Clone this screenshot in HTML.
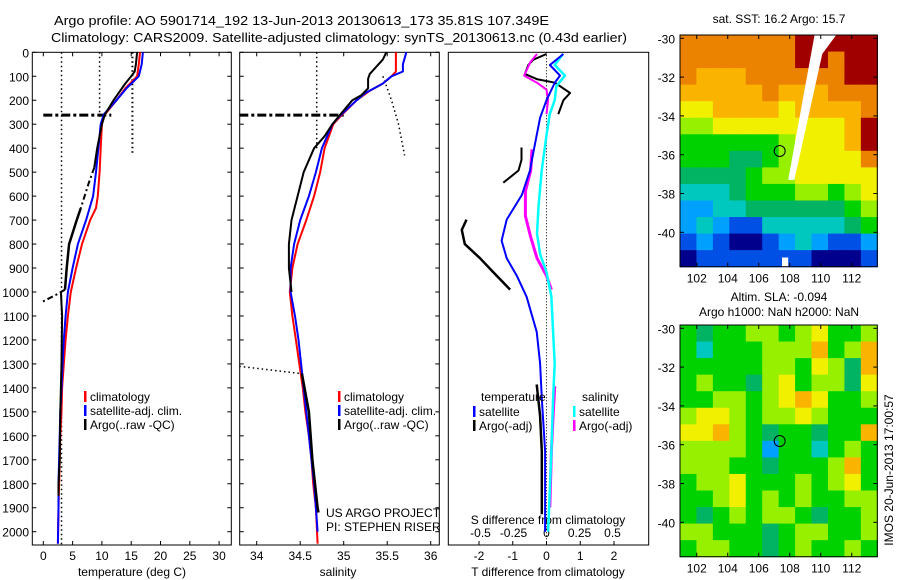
<!DOCTYPE html>
<html><head><meta charset="utf-8"><style>
body{margin:0;background:#fff;}
svg{display:block;font-family:"Liberation Sans",sans-serif;}
</style></head><body>
<svg id="chart" width="900" height="580" viewBox="0 0 900 580" xmlns="http://www.w3.org/2000/svg">
<text x="54" y="25" font-size="13" textLength="495" lengthAdjust="spacingAndGlyphs">Argo profile: AO 5901714_192 13-Jun-2013 20130613_173 35.81S 107.349E</text>
<text x="51" y="42" font-size="13" textLength="576" lengthAdjust="spacingAndGlyphs">Climatology: CARS2009. Satellite-adjusted climatology: synTS_20130613.nc (0.43d earlier)</text>
<g id="g"></g>
</svg>
<script>
// ---------- data ----------
const depthTicks=[0,100,200,300,400,500,600,700,800,900,1000,1100,1200,1300,1400,1500,1600,1700,1800,1900,2000];
const tempTicks=[0,5,10,15,20,25,30];
const salTicks=[34,34.5,35,35.5,36];
const tdiffTicks=[-2,-1,0,1,2];
const sdiffTicks=[-0.5,-0.25,0,0.25,0.5];
const sdiffLabels=["-0.5","-0.25","0","0.25","0.5"];

const climTempDepth=[0,50,100,150,200,260,300,400,500,600,650,700,800,900,1000,1100,1200,1300,1400,1500,1600,1700,1800,1900,2050];
const climTemp=[16.5,16.3,16,14,12.5,10.5,10,9.8,9.6,9.3,9,8,6.6,5.6,4.7,4.2,3.8,3.5,3.2,3.1,2.9,2.8,2.7,2.6,2.5];
const satTempDepth=[0,50,100,150,200,260,300,400,500,600,700,800,900,1000,1100,1200,1300,1400,1500,1600,1700,1800,1900,2050];
const satTemp=[17,16.8,16.3,14.2,12.5,10.3,9.8,9.4,9.0,8.5,7.3,5.9,5.0,4.2,3.8,3.5,3.3,3.1,2.9,2.8,2.7,2.6,2.6,2.5];
const argoTempDepth1=[0,50,80,100,130,200,260,300,400,480];
const argoTemp1=[16,15.8,15.6,15,14,12,10.5,10,9.2,8.7];
const argoTempDepth2=[650,700,800,900,990];
const argoTemp2=[6.4,5.7,4.4,4.0,3.7];
const argoTempDepth3=[1000,1100,1300,1500,1700,1800,1850];
const argoTemp3=[3.0,3.2,3.1,2.9,2.8,2.6,2.6];
const argoTempDashDepth=[480,550,620,650];
const argoTempDash=[8.7,7.7,6.8,6.4];
const argoTempHookDepth=[990,1000,1010,1045];
const argoTempHook=[3.7,3.0,2.3,-0.5];

const climSalDepth=[0,80,100,130,160,200,260,300,400,500,600,700,800,900,1000,1100,1200,1300,1400,1500,1600,1700,1800,1900,2050];
const climSal=[35.6,35.6,35.55,35.45,35.3,35.15,34.98,34.88,34.78,34.73,34.66,34.57,34.47,34.41,34.38,34.41,34.45,34.49,34.53,34.56,34.6,34.63,34.65,34.68,34.7];
const satSalDepth=[0,50,80,100,130,170,200,260,300,400,500,600,700,800,900,1000,1100,1200,1300,1400,1500,1600,1700,1800,1900,2000];
const satSal=[35.72,35.68,35.68,35.55,35.45,35.25,35.15,34.97,34.87,34.75,34.68,34.6,34.5,34.43,34.39,34.39,34.44,34.48,34.51,34.54,34.57,34.6,34.63,34.66,34.68,34.7];
const argoSalDepth1=[0,30,50,90,110,150,180,200,260,300,350,400,500,600,700,800,900,1000];
const argoSal1=[35.49,35.45,35.4,35.3,35.28,35.28,35.2,35.1,34.96,34.87,34.78,34.66,34.54,34.47,34.40,34.37,34.37,34.4];
const argoSalDepth2=[1340,1500,1700,1900,1920];
const argoSal2=[34.52,34.6,34.64,34.7,34.71];

const satTdiffDepth=[7,53,97,126,200,273,346,419,493,595,698,786,859,932,1020,1166,1298,1444,1663,2000];
const satTdiff=[0.5,0.1,0.4,0.25,0,-0.19,-0.29,-0.39,-0.49,-0.73,-1.18,-1.33,-1.18,-0.88,-0.59,-0.29,-0.19,-0.14,-0.04,-0.04];
const argoTdiffDepthA=[7,31,53,90,112,127,170,200,258];
const argoTdiffA=[0,-0.39,-0.54,-0.64,-0.29,0.25,0.7,0.5,0.35];
const argoTdiffDepthB=[397,449,493,544];
const argoTdiffB=[-0.74,-0.74,-0.83,-1.28];
const argoTdiffDepthC=[698,741,800,859,917,990];
const argoTdiffC=[-2.37,-2.51,-2.42,-1.97,-1.58,-1.08];
const argoTdiffDepthD=[1386,1517,1664,1927];
const argoTdiffD=[-0.29,-0.19,-0.14,-0.14];
const satSdiffDepth=[7,53,97,141,200,258,346,493,639,756,844,917,1020,1166,1298,1444,1663,2000];
const satSdiff=[0.125,0.062,0.14,0.075,0.062,0.025,0,-0.036,-0.06,-0.072,-0.048,0,0.037,0.05,0.062,0.05,0.037,0.012];
const argoSdiffDepthA=[7,39,97,127,156,200,258];
const argoSdiffA=[-0.072,-0.12,-0.17,-0.072,0,0.012,0];
const argoSdiffDepthB=[405,493,580,683,771,859,932,990];
const argoSdiffB=[-0.11,-0.12,-0.16,-0.16,-0.12,-0.072,0,0.037];
const argoSdiffDepthC=[1393,1517,1664,1898];
const argoSdiffC=[0.062,0.05,0.037,0.025];

const lonTicks=[102,104,106,108,110,112];
const latTicks=[-30,-32,-34,-36,-38,-40];
const sstGrid=[
[9,9,9,9,9,9,9,10,10,10,10,10],
[9,9,9,9,9,9,9,10,10,9,10,10],
[9,8,8,8,9,9,9,9,9,9,10,10],
[8,8,8,8,8,9,8,8,8,9,9,9],
[7,7,8,8,8,8,7,8,8,8,8,9],
[6,6,7,7,7,7,7,7,7,7,8,10],
[5,5,5,5,5,5,6,7,7,7,8,10],
[5,5,5,4,4,5,6,7,7,7,7,9],
[4,4,4,4,5,6,6,7,7,7,7,7],
[3,3,3,4,5,5,5,6,6,5,6,7],
[2,2,3,3,4,4,4,4,4,4,5,6],
[2,3,2,1,1,3,3,3,3,3,4,5],
[1,2,1,0,0,1,2,3,2,1,1,2],
[0,1,1,1,1,1,1,1,0,0,0,1]];
const slaGrid=[
[5,4,5,5,6,6,5,6,7,5,5,6],
[5,3,5,5,5,6,6,6,8,5,6,8],
[5,5,5,5,5,6,6,5,7,6,4,8],
[5,6,5,5,4,6,7,5,6,6,4,7],
[5,5,6,6,5,6,7,8,7,5,5,6],
[6,7,7,6,5,6,6,7,6,5,5,5],
[7,7,8,6,5,4,5,5,4,5,5,8],
[6,6,6,6,5,2,5,5,3,5,6,5],
[6,6,6,5,5,4,5,5,5,6,8,5],
[5,6,6,7,5,5,5,6,5,6,7,5],
[5,5,6,7,5,6,5,6,5,5,6,6],
[5,4,5,6,5,6,6,5,4,5,5,6],
[6,6,5,5,5,4,5,6,6,5,5,6],
[5,6,6,5,5,4,5,6,5,5,6,5]];
const gapLon=[109.6,111.0,110.1,108.3,107.9];
const gapLat=[-29.83,-29.83,-30.8,-37.3,-37.3];
const notchLon=[107.5,107.9,107.9,107.5];
const notchLat=[-41.3,-41.3,-41.8,-41.8];
const argoLon=107.35, argoLat=-35.81;

// ---------- drawing ----------
const NS="http://www.w3.org/2000/svg";
const G=document.getElementById('g');
function mk(tag,attrs,parent){const e=document.createElementNS(NS,tag);for(const k in attrs)e.setAttribute(k,attrs[k]);(parent||G).appendChild(e);return e;}
const yD=d=>52.3+d*0.2397;
const xT=t=>43.3+t*5.86;
const xS=s=>256.7+(s-34)*87;
const xTd=t=>546.5+t*33.75;
const xSd=s=>546.5+s*132;
const PB=545;
function line(xs,ds,fx,color,w,name,dash){
  const p=xs.map((v,i)=>fx(v).toFixed(1)+","+yD(ds[i]).toFixed(1)).join(" ");
  const e=mk('polyline',{points:p,fill:'none',stroke:color,'stroke-width':w,'stroke-linejoin':'round'});
  if(dash)e.setAttribute('stroke-dasharray',dash);
  
  
}
function txt(x,y,s,opt){const e=mk('text',Object.assign({x:x,y:y,'font-size':12},opt||{}));e.textContent=s;return e;}
function panel(x0,x1,name){
  const r=mk('rect',{x:x0,y:52.3,width:x1-x0,height:PB-52.3,fill:'none',stroke:'#000','stroke-width':1});
  
  
  depthTicks.forEach(d=>{mk('line',{x1:x0,x2:x0+4,y1:yD(d),y2:yD(d),stroke:'#000'});mk('line',{x1:x1,x2:x1-4,y1:yD(d),y2:yD(d),stroke:'#000'});});
}
// panel 1
panel(32.3,231.3,'temperature-panel');
depthTicks.forEach(d=>{const t=txt(29,yD(d)+5,String(d),{'text-anchor':'end'});});
tempTicks.forEach(t=>{mk('line',{x1:xT(t),x2:xT(t),y1:PB,y2:PB-4,stroke:'#000'});mk('line',{x1:xT(t),x2:xT(t),y1:52.3,y2:56.3,stroke:'#000'});
  const e=txt(xT(t),560,String(t),{'text-anchor':'middle'});});
const xt1=txt(132,576,'temperature (deg C)',{'text-anchor':'middle'});
line([3.1,3.1],[0,2060],xT,'#000',1.5,'dotted-ref-temp-deep','1.5,3');
line([9.6,9.6],[0,270],xT,'#000',1.5,'dotted-ref-temp-mld','1.5,3');
line([15.2,15.2],[0,420],xT,'#000',2,'dotted-ref-temp-surface','1.5,3');
line([0,11.6],[262,262],xT,'#000',3,'mld-marker-temp','9,3,3,3');
line(climTemp,climTempDepth,xT,'#f00',2,'climatology-temp-line');
line(satTemp,satTempDepth,xT,'#00f',2,'satellite-temp-line');
line(argoTemp1,argoTempDepth1,xT,'#000',2,'argo-temp-line-upper');
line(argoTempDash,argoTempDashDepth,xT,'#000',2,'argo-temp-dashdot','6,3,2,3');
line(argoTemp2,argoTempDepth2,xT,'#000',2.5,'argo-temp-line-mid');
line(argoTempHook,argoTempHookDepth,xT,'#000',2,'argo-temp-hook','6,3,2,3');
line(argoTemp3,argoTempDepth3,xT,'#000',2,'argo-temp-line-deep');
function legend(x,y,color,label,name){const r=mk('rect',{x:x,y:y-9,width:2.5,height:11,fill:color});
  const t=txt(x+6,y+1,label);}
legend(84,400,'#f00','climatology','legend-climatology');
legend(84,414,'#00f','satellite-adj. clim.','legend-satellite');
legend(84,428,'#000','Argo(..raw -QC)','legend-argo');
// panel 2
panel(239.7,439.3,'salinity-panel');
salTicks.forEach(s=>{mk('line',{x1:xS(s),x2:xS(s),y1:PB,y2:PB-4,stroke:'#000'});mk('line',{x1:xS(s),x2:xS(s),y1:52.3,y2:56.3,stroke:'#000'});
  const e=txt(xS(s),560,String(s),{'text-anchor':'middle'});});
const xt2=txt(338,576,'salinity',{'text-anchor':'middle'});
line([34.69,34.69],[0,400],xS,'#000',1.5,'dotted-ref-sal','1.5,3');
line([35.45,35.55,35.63,35.7],[100,200,300,430],xS,'#000',1.5,'dotted-ref-sal-curve','1.5,3');
line([33.8,34.5],[1310,1340],xS,'#000',1.5,'dotted-ref-sal-deep','1.5,3');
line([33.8,35.0],[262,262],xS,'#000',3,'mld-marker-sal','9,3,3,3');
line(climSal,climSalDepth,xS,'#f00',2,'climatology-sal-line');
line(satSal,satSalDepth,xS,'#00f',2,'satellite-sal-line');
line(argoSal1,argoSalDepth1,xS,'#000',2,'argo-sal-line');
line(argoSal2,argoSalDepth2,xS,'#000',2.5,'argo-sal-line-deep');
legend(338,400,'#f00','climatology','legend-climatology-sal');
legend(338,414,'#00f','satellite-adj. clim.','legend-satellite-sal');
legend(338,428,'#000','Argo(..raw -QC)','legend-argo-sal');
const us=txt(326,517,'US ARGO PROJECT');
const pi=txt(326,531,'PI: STEPHEN RISER');
// panel 3
const r3=mk('rect',{x:448.3,y:52.3,width:200.4,height:PB-52.3,fill:'none',stroke:'#000'});


tdiffTicks.forEach(t=>{mk('line',{x1:xTd(t),x2:xTd(t),y1:PB,y2:PB-4,stroke:'#000'});
  const e=txt(xTd(t),560,String(t),{'text-anchor':'middle'});});
sdiffTicks.forEach((s,i)=>{const e=txt(xSd(s),537,sdiffLabels[i],{'text-anchor':'middle'});});
const st=txt(548,524,'S difference from climatology',{'text-anchor':'middle'});
const tt=txt(548,576,'T difference from climatology',{'text-anchor':'middle'});
line([0,0],[0,2050],xTd,'#000',1,'zero-reference-line','1,2');
line(argoTdiffA,argoTdiffDepthA,xTd,'#000',2,'argo-tdiff-upper');
line(argoTdiffB,argoTdiffDepthB,xTd,'#000',2,'argo-tdiff-mid');
line(argoTdiffC,argoTdiffDepthC,xTd,'#000',2.5,'argo-tdiff-lower');
line(argoTdiffD,argoTdiffDepthD,xTd,'#000',2.5,'argo-tdiff-deep');
line(argoSdiffA,argoSdiffDepthA,xSd,'#f0f',2,'argo-sdiff-upper');
line(argoSdiffB,argoSdiffDepthB,xSd,'#f0f',3,'argo-sdiff-mid');
line(argoSdiffC,argoSdiffDepthC,xSd,'#f0f',3,'argo-sdiff-deep');
line(satSdiff,satSdiffDepth,xSd,'#0ff',2.5,'satellite-sdiff-line');
line(satTdiff,satTdiffDepth,xTd,'#00f',2,'satellite-tdiff-line');
const lt=txt(481,401,'temperature');
const ls=txt(582,401,'salinity');
legend(473,415,'#00f','satellite','legend-tdiff-satellite');
legend(473,429,'#000','Argo(-adj)','legend-tdiff-argo');
legend(573,415,'#0ff','satellite','legend-sdiff-satellite');
legend(573,429,'#f0f','Argo(-adj)','legend-sdiff-argo');
// maps
const pal=['#00008c','#0050e6','#00a0ff','#00c8be','#00b464','#00d200','#96f000','#f0f000','#fab400','#eb8200','#a00000'];
function map(top,grid,name,gap){
  const L=680,R=877.3,T=top,B=top+231.7;
  const lx=lon=>L+(lon-100.92)*15.5;
  const ly=lat=>T+(-29.83-lat)*19.4;
  const rows=grid.length,cols=grid[0].length,cw=(R-L)/cols,ch=(B-T)/rows;
  const g=mk('g',{});
  
  
  grid.forEach((row,i)=>row.forEach((v,j)=>{
    const c=mk('rect',{x:(L+j*cw).toFixed(2),y:(T+i*ch).toFixed(2),width:(cw+0.6).toFixed(2),height:(ch+0.6).toFixed(2),fill:pal[v]},g);
    
    
  }));
  if(gap){const p=mk('polygon',{points:gapLon.map((v,i)=>lx(v)+','+ly(gapLat[i])).join(' '),fill:'#fff'},g);
    
    const n=mk('polygon',{points:notchLon.map((v,i)=>lx(v)+','+ly(notchLat[i])).join(' '),fill:'#fff'},g);
    }
  mk('rect',{x:L,y:T,width:R-L,height:B-T,fill:'none',stroke:'#000'},g);
  lonTicks.forEach(v=>{mk('line',{x1:lx(v),x2:lx(v),y1:B,y2:B-4,stroke:'#000'},g);mk('line',{x1:lx(v),x2:lx(v),y1:T,y2:T+4,stroke:'#000'},g);
    const e=txt(lx(v),B+16,String(v),{'text-anchor':'middle'});});
  latTicks.forEach(v=>{mk('line',{x1:L,x2:L+4,y1:ly(v),y2:ly(v),stroke:'#000'},g);mk('line',{x1:R,x2:R-4,y1:ly(v),y2:ly(v),stroke:'#000'},g);
    const e=txt(L-5,ly(v)+5,String(v),{'text-anchor':'end'});});
  const c=mk('circle',{cx:lx(argoLon),cy:ly(argoLat),r:5.5,fill:'none',stroke:'#000'},g);
  
  
}
map(35,sstGrid,'sst-map',true);
map(325,slaGrid,'sla-map',false);
const m1=txt(779,23,'sat. SST: 16.2 Argo: 15.7',{'text-anchor':'middle'});
const m2=txt(779,301,'Altim. SLA: -0.094',{'text-anchor':'middle'});
const m3=txt(779,316,'Argo h1000: NaN h2000: NaN',{'text-anchor':'middle'});
const im=txt(0,0,'IMOS 20-Jun-2013 17:00:57',{'text-anchor':'middle',transform:'translate(893,470) rotate(-90)'});


</script>
</body></html>
